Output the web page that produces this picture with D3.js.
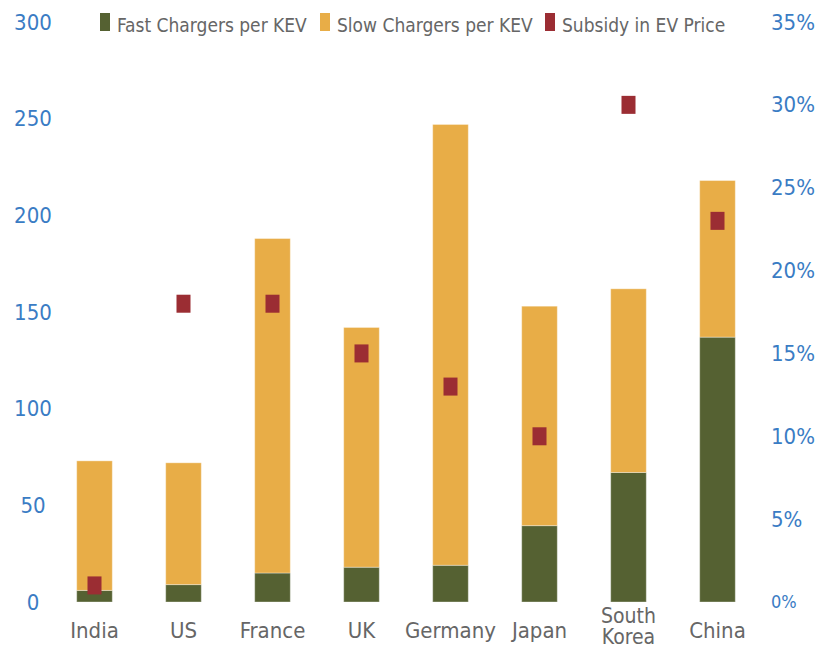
<!DOCTYPE html>
<html lang="en">
<head>
<meta charset="UTF-8">
<title>Chargers per KEV and EV subsidy</title>
<script src="https://d3js.org/d3.v7.min.js"></script>
<style>
    body { margin: 0; background: #fff; }
    svg text { font-family: "Liberation Sans Narrow", "DejaVu Sans Condensed", "Open Sans", sans-serif; }
</style>
</head>
<body>
<svg width="818" height="650"></svg>
<script>
// chart data
const countries = ['India', 'US', 'France', 'UK', 'Germany', 'Japan', 'South Korea', 'China'];
const fastChargers = [6, 9, 15, 18, 19, 39.5, 67, 137];
const slowChargers = [67, 63, 173, 124, 228, 113.5, 95, 81];
const subsidy = [0.01, 0.18, 0.18, 0.15, 0.13, 0.10, 0.30, 0.23];
const leftTicks = [0, 50, 100, 150, 200, 250, 300];
const rightTicks = [0, 0.05, 0.10, 0.15, 0.20, 0.25, 0.30, 0.35];
const seriesNames = ['Fast Chargers per KEV', 'Slow Chargers per KEV', 'Subsidy in EV Price'];

const colFast = '#556132', colSlow = '#e8ad47', colSub = '#9b2d33';
const blue = '#3a7cc4', grey = '#666666';

const svg = d3.select('svg');
const plotTop = 22, plotBottom = 602;

const x = d3.scaleBand()
    .domain(countries)
    .range([50, 762])
    .paddingInner(0.6)
    .paddingOuter(0.3);

const y = d3.scaleLinear().domain([0, 300]).range([plotBottom, plotTop]);
const y2 = d3.scaleLinear().domain([0, 0.35]).range([plotBottom, plotTop]);

const rows = countries.map((c, i) => ({
    country: c, fast: fastChargers[i], slow: slowChargers[i], sub: subsidy[i]
}));

const stacked = d3.stack().keys(['fast', 'slow'])(rows);
const colors = { fast: colFast, slow: colSlow };

svg.append('g')
    .selectAll('g')
    .data(stacked)
    .join('g')
    .attr('fill', d => colors[d.key])
    .selectAll('rect')
    .data(d => d)
    .join('rect')
    .attr('x', d => x(d.data.country))
    .attr('y', d => y(d[1]))
    .attr('width', x.bandwidth())
    .attr('height', d => y(d[0]) - y(d[1]))
    .attr('stroke', 'rgba(255,255,255,0.35)')
    .attr('stroke-width', 1);

// subsidy markers
svg.append('g')
    .selectAll('rect')
    .data(rows)
    .join('rect')
    .attr('x', d => x(d.country) + x.bandwidth() / 2 - 7)
    .attr('y', d => y2(d.sub) - 9)
    .attr('width', 14)
    .attr('height', 18)
    .attr('fill', colSub);

// left axis
const axL = svg.append('g')
    .attr('transform', 'translate(33,0)')
    .call(d3.axisLeft(y).tickValues(leftTicks).tickSize(0).tickPadding(0));
axL.select('.domain').remove();
axL.selectAll('text')
    .attr('text-anchor', 'middle')
    .attr('fill', blue)
    .style('font-size', '22px');

// right axis
const axR = svg.append('g')
    .attr('transform', 'translate(771,0)')
    .call(d3.axisRight(y2).tickValues(rightTicks).tickSize(0).tickPadding(0)
        .tickFormat(d3.format('.0%')));
axR.select('.domain').remove();
axR.selectAll('text')
    .attr('fill', blue)
    .style('font-size', d => d === 0 ? '18px' : '22px');

// category labels
const lab = svg.append('g')
    .selectAll('text')
    .data(countries)
    .join('text')
    .attr('x', d => x(d) + x.bandwidth() / 2)
    .attr('y', 638)
    .attr('text-anchor', 'middle')
    .attr('fill', grey)
    .style('font-size', '22px');
lab.each(function(d) {
    const t = d3.select(this);
    if (d === 'South Korea') {
        t.attr('y', 623).style('font-size', '21px');
        t.append('tspan').attr('x', x(d) + x.bandwidth() / 2).attr('dy', 0).text('South');
        t.append('tspan').attr('x', x(d) + x.bandwidth() / 2).attr('dy', 21).text('Korea');
    } else {
        t.text(d);
    }
});

// legend
const legX = [100, 320, 545];
const legCols = [colFast, colSlow, colSub];
const legend = svg.append('g');
seriesNames.forEach((name, i) => {
    legend.append('rect')
        .attr('x', legX[i]).attr('y', 13)
        .attr('width', 10).attr('height', 18)
        .attr('fill', legCols[i]);
    legend.append('text')
        .attr('x', legX[i] + 17).attr('y', 32)
        .attr('fill', grey)
        .style('font-size', '19px')
        .text(name);
});
</script>
</body>
</html>
